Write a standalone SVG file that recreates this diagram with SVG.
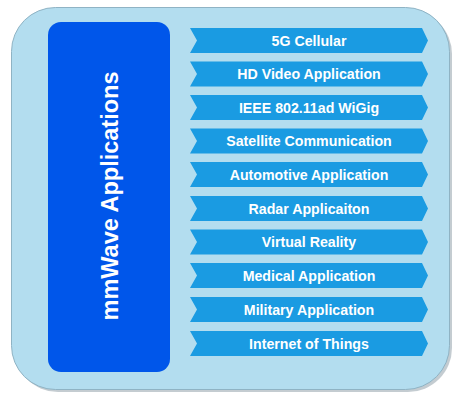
<svg xmlns="http://www.w3.org/2000/svg" width="456" height="394" viewBox="0 0 456 394">
<defs>
<style>
.bg{fill:#b3ddef;stroke:#8fb3c4;stroke-width:1}
.main{fill:#0056ea}
.chev{fill:#1a9be2}
.lbl{font-family:"Liberation Sans",Arial,sans-serif;font-weight:bold;font-size:14.2px;fill:#ffffff;text-anchor:middle}
.title{font-family:"Liberation Sans",Arial,sans-serif;font-weight:bold;font-size:23.5px;fill:#ffffff;text-anchor:middle}
</style>
<path id="chv" d="M0,0 H232 L238,12.5 L232,25 H0 L7,12.5 Z"/>
</defs>
<g id="background">
<rect x="14" y="10" width="438" height="382" rx="44" ry="44" fill="#8a9aa3" opacity="0.5"/>
<rect class="bg" x="11.5" y="7.5" width="438" height="382" rx="44" ry="44"/>
</g>
<g id="title-box">
<rect class="main" x="48" y="22" width="122" height="350" rx="13" ry="13"/>
<text class="title" transform="translate(118,196) rotate(-90)">mmWave Applications</text>
</g>
<g id="items">
<g id="item1"><use href="#chv" class="chev" x="190" y="28"/><text class="lbl" x="309" y="45.5">5G Cellular</text></g>
<g id="item2"><use href="#chv" class="chev" x="190" y="61.5"/><text class="lbl" x="309" y="79">HD Video Application</text></g>
<g id="item3"><use href="#chv" class="chev" x="190" y="95"/><text class="lbl" x="309" y="112.5">IEEE 802.11ad WiGig</text></g>
<g id="item4"><use href="#chv" class="chev" x="190" y="128.5"/><text class="lbl" x="309" y="146">Satellite Communication</text></g>
<g id="item5"><use href="#chv" class="chev" x="190" y="162"/><text class="lbl" x="309" y="179.5">Automotive Application</text></g>
<g id="item6"><use href="#chv" class="chev" x="190" y="196"/><text class="lbl" x="309" y="213.5">Radar Applicaiton</text></g>
<g id="item7"><use href="#chv" class="chev" x="190" y="229.5"/><text class="lbl" x="309" y="247">Virtual Reality</text></g>
<g id="item8"><use href="#chv" class="chev" x="190" y="263"/><text class="lbl" x="309" y="280.5">Medical Application</text></g>
<g id="item9"><use href="#chv" class="chev" x="190" y="297"/><text class="lbl" x="309" y="314.5">Military Application</text></g>
<g id="item10"><use href="#chv" class="chev" x="190" y="331"/><text class="lbl" x="309" y="348.5">Internet of Things</text></g>
</g>
<g id="connectors"></g>
</svg>
